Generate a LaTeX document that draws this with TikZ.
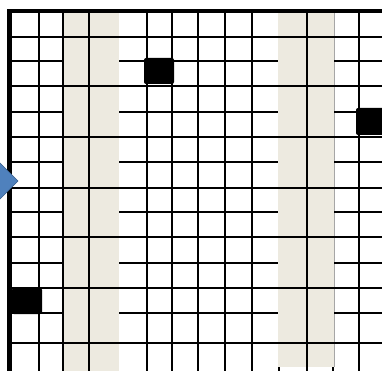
\documentclass[tikz,border=0pt]{standalone}
\usepackage{tikz}
\definecolor{bandbeige}{RGB}{237,234,224}
\definecolor{arrowblue}{RGB}{79,129,189}
\definecolor{arrowedge}{RGB}{56,93,138}
\tikzset{gridline/.style={black,line width=1.9pt},
  band/.style={fill=bandbeige,draw=none},
  block/.style={fill=black,rounded corners=2pt},
  frame/.style={black,line width=4.5pt}}

\begin{document}
\begin{tikzpicture}[x=1pt,y=-1pt]
  \path[use as bounding box] (0,0) rectangle (382,371);
  % shaded columns
  \fill[band] (64,11) rectangle (119,371);
  \fill[band] (278,11) rectangle (334,367);
  \draw[gray!70,line width=1pt] (334,11) -- (334,367);
  % rows running through the bands
  \foreach \y in {37,86,137,188,237,288,343}
    \draw[gridline] (12,\y) -- (382,\y);
  % rows stopping at the bands
  \foreach \y in {61,112,162,212,263,313}{
    \draw[gridline] (12,\y) -- (63,\y);
    \draw[gridline] (119,\y) -- (278,\y);
    \draw[gridline] (334,\y) -- (382,\y);
  }
  \foreach \x in {39,63,89,147,172,198,225,252,307,359}
    \draw[gridline] (\x,11) -- (\x,371);
  \draw[black,line width=1.2pt] (279,367) -- (279,371) (333,367) -- (333,371);
  % blocks
  \fill[block] (144,58) rectangle (174,84);
  \fill[block] (356,108) rectangle (386,135);
  \fill[block] (12,288) rectangle (42,314);
  % border
  \draw[frame] (9.5,371) -- (9.5,11) -- (382,11);
  \filldraw[fill=arrowblue,draw=arrowedge,line width=.6pt]
    (-2,163) -- (0,163) -- (18,181) -- (0,199) -- (-2,199) -- cycle;
\end{tikzpicture}
\end{document}
